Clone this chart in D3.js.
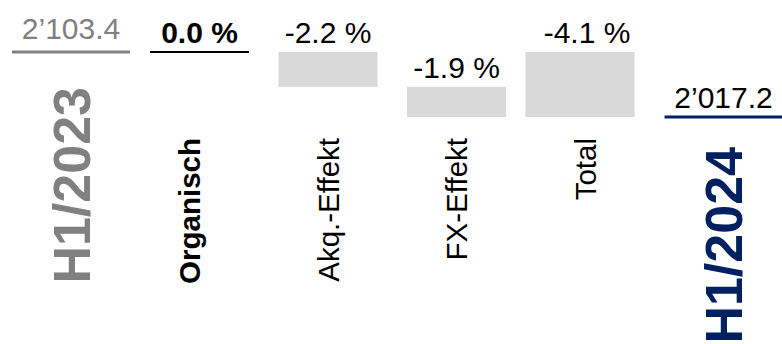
<!DOCTYPE html>
<html><head><meta charset="utf-8">
<script src="https://cdn.jsdelivr.net/npm/d3@7"></script>
<style>body{margin:0;background:#fff}svg{display:block}</style>
</head><body><svg id="c" width="782" height="344"></svg>
<script>
const categories = ["H1/2023","Organisch","Akq.-Effekt","FX-Effekt","Total","H1/2024"];
const startValue = 2103.4;
const endValue = 2017.2;
const changePct = [0.0, -2.2, -1.9];   // Organisch, Akq.-Effekt, FX-Effekt
const totalPct = -4.1;
const valueLabels = ["2’103.4","0.0 %","-2.2 %","-1.9 %","-4.1 %","2’017.2"];

// build waterfall rows
const rows = [];
rows.push({cat: categories[0], kind: "start", from: startValue, to: startValue});
let run = startValue;
changePct.forEach((p, i) => {
  const next = run + startValue * p / 100;
  rows.push({cat: categories[i + 1], kind: p === 0 ? "zero" : "delta", from: run, to: next});
  run = next;
});
rows.push({cat: categories[4], kind: "total", from: startValue, to: startValue * (1 + totalPct / 100)});
rows.push({cat: categories[5], kind: "end", from: endValue, to: endValue});
rows.forEach((r, i) => r.label = valueLabels[i]);

const svg = d3.select("#c");
const FONT = "'Liberation Sans', Arial, Helvetica, sans-serif";

const x = d3.scaleBand().domain(categories).range([6.75, 777.75]).paddingInner(0.23).paddingOuter(0.115);
const y = d3.scaleLinear().domain([endValue, startValue]).range([117, 52]);
const shift = d => d.kind === "end" ? 10 : 0;
const cx = d => x(d.cat) + x.bandwidth() / 2 + shift(d);
const isBar = d => d.kind === "delta" || d.kind === "total";
const isLevel = d => d.kind === "start" || d.kind === "end";

// bars
svg.selectAll("rect.bar").data(rows.filter(isBar)).join("rect")
  .attr("class", "bar")
  .attr("x", d => x(d.cat) - (d.kind === "total" ? 10 : 0))
  .attr("width", d => x.bandwidth() + (d.kind === "total" ? 10 : 0))
  .attr("y", d => y(Math.max(d.from, d.to)))
  .attr("height", d => Math.abs(y(d.from) - y(d.to)))
  .attr("fill", "#d9d9d9");

// level lines
const lineStyle = {start: ["#808080", 3, 19], end: ["#002060", 3, 19], zero: ["#000000", 2, 0]};
svg.selectAll("line.lvl").data(rows.filter(d => !isBar(d))).join("line")
  .attr("class", "lvl")
  .attr("x1", d => cx(d) - (x.bandwidth() + lineStyle[d.kind][2]) / 2)
  .attr("x2", d => cx(d) + (x.bandwidth() + lineStyle[d.kind][2]) / 2)
  .attr("y1", d => y(d.to)).attr("y2", d => y(d.to))
  .attr("stroke", d => lineStyle[d.kind][0])
  .attr("stroke-width", d => lineStyle[d.kind][1]);

// value labels
svg.selectAll("text.val").data(rows).join("text")
  .attr("class", "val")
  .attr("x", d => cx(d) + (d.kind === "total" ? 2 : 0))
  .attr("y", d => y(Math.max(d.from, d.to)) - (d.kind === "start" ? 13 : 9))
  .attr("text-anchor", "middle")
  .attr("font-family", FONT)
  .attr("font-size", 30)
  .attr("font-weight", d => d.kind === "zero" ? "bold" : "normal")
  .attr("fill", d => d.kind === "start" ? "#808080" : "#000")
  .text(d => d.label);

// category labels (rotated)
const catFont = d => isLevel(d) ? 52 : 29.5;
svg.selectAll("text.cat").data(rows).join("text")
  .attr("class", "cat")
  .attr("transform", d => {
    const fs = catFont(d);
    const bx = cx(d) + 0.36 * fs + (d.kind === "zero" ? -10 : 0);
    const by = isLevel(d) ? y(d.to) + (d.kind === "end" ? 30 : 35) : 138;
    return `translate(${bx},${by}) rotate(-90)`;
  })
  .attr("text-anchor", "end")
  .attr("font-family", FONT)
  .attr("font-size", d => catFont(d))
  .attr("font-weight", d => isBar(d) ? "normal" : "bold")
  .attr("fill", d => d.kind === "start" ? "#808080" : d.kind === "end" ? "#002060" : "#000")
  .text(d => d.cat);
</script></body></html>
